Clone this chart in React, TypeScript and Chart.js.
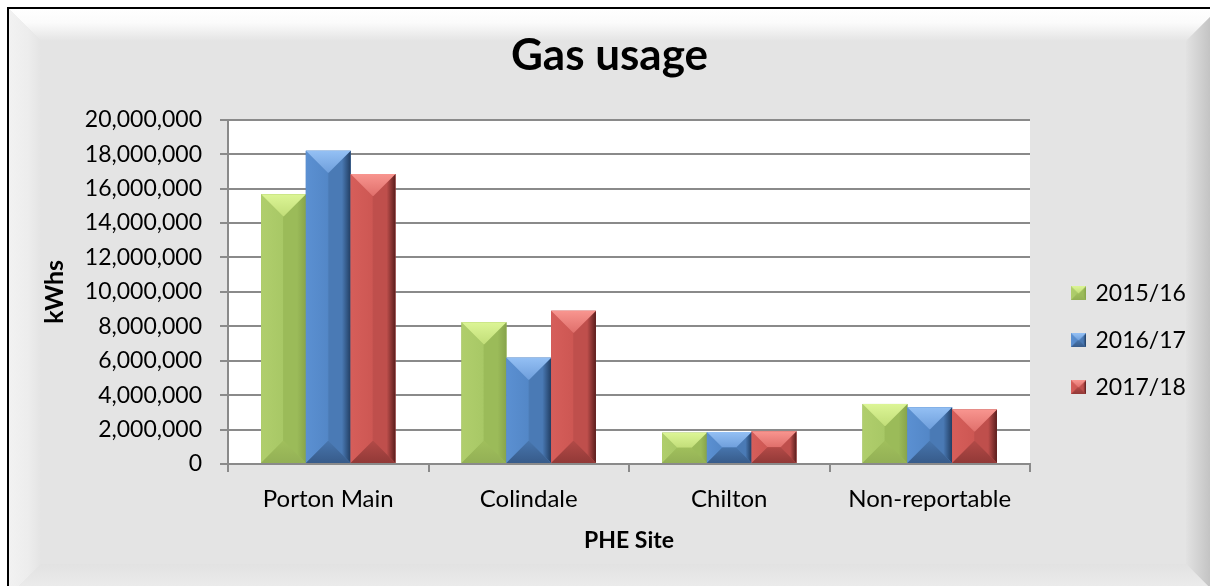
import React, { useEffect, useRef } from 'react';
import { Chart, registerables } from 'chart.js';

Chart.register(...registerables);

// ---- data ----
const categories = ['Porton Main', 'Colindale', 'Chilton', 'Non-reportable'];
const seriesLabels = ['2015/16', '2016/17', '2017/18'];
const values2015 = [15680000, 8240000, 1820000, 3490000];
const values2016 = [18200000, 6180000, 1860000, 3300000];
const values2017 = [16850000, 8900000, 1900000, 3160000];
const yMin = 0;
const yMax = 20000000;
const yStep = 2000000;
const chartTitle = 'Gas usage';
const xTitle = 'PHE Site';
const yTitle = 'kWhs';

// ---- style ----
const W = 1210;
const H = 586;
const FONT = 'Lato';
const GRID = '#8a8a8a';
const LEGEND_W = 180;
const LEGEND_SHIFT = 19;

type Pal = { base: string; top: string; topDark: string; leftEdge: string; left: string; right: string; edge: string; bottom: string; bottomDark: string };
const palettes: Pal[] = [
  { base: '#9bbb59', top: '#dcf596', topDark: '#c2de79', leftEdge: '#b0ce6c', left: '#a8c866', right: '#9bbb59', edge: '#87a44b', bottom: '#a0bf5c', bottomDark: '#93b055' },
  { base: '#4f81bd', top: '#94c0f4', topDark: '#6f9fdc', leftEdge: '#5b90d2', left: '#5387c7', right: '#4a7ab5', edge: '#213d62', bottom: '#4775ad', bottomDark: '#375b8a' },
  { base: '#c0504d', top: '#f8958f', topDark: '#e06f6b', leftEdge: '#d65e5a', left: '#cd5753', right: '#bf4f4c', edge: '#5a1e1d', bottom: '#b24a47', bottomDark: '#923937' },
];

function poly(ctx: CanvasRenderingContext2D, pts: number[][], fill: string | CanvasGradient) {
  ctx.beginPath();
  ctx.moveTo(pts[0][0], pts[0][1]);
  for (let i = 1; i < pts.length; i++) ctx.lineTo(pts[i][0], pts[i][1]);
  ctx.closePath();
  ctx.fillStyle = fill;
  ctx.fill();
}

function drawBevel(ctx: CanvasRenderingContext2D, x0: number, x1: number, yt: number, yb: number, p: Pal) {
  const w = x1 - x0;
  const h = yb - yt;
  if (h <= 0.5 || w <= 0.5) return;
  const d = Math.min(w / 2, h / 2, 22);
  const xm0 = x0 + d, xm1 = x1 - d, ym0 = yt + d, ym1 = yb - d;
  ctx.save();
  ctx.fillStyle = p.base;
  ctx.fillRect(x0, yt, w, h);
  const gl = ctx.createLinearGradient(x0, 0, xm0, 0);
  gl.addColorStop(0, p.leftEdge);
  gl.addColorStop(1, p.left);
  poly(ctx, [[x0, yt], [xm0, ym0], [xm0, ym1], [x0, yb]], gl);
  const gr = ctx.createLinearGradient(xm1, 0, x1, 0);
  gr.addColorStop(0, p.right);
  gr.addColorStop(0.6, p.right);
  gr.addColorStop(1, p.edge);
  poly(ctx, [[x1, yt], [xm1, ym0], [xm1, ym1], [x1, yb]], gr);
  const gt = ctx.createLinearGradient(0, yt, 0, ym0);
  gt.addColorStop(0, p.top);
  gt.addColorStop(1, p.topDark);
  poly(ctx, [[x0, yt], [x1, yt], [xm1, ym0], [xm0, ym0]], gt);
  const gb = ctx.createLinearGradient(0, ym1, 0, yb);
  gb.addColorStop(0, p.bottom);
  gb.addColorStop(1, p.bottomDark);
  poly(ctx, [[x0, yb], [x1, yb], [xm1, ym1], [xm0, ym1]], gb);
  ctx.restore();
}

function makeIcon(p: Pal): HTMLCanvasElement {
  const c = document.createElement('canvas');
  c.width = 15;
  c.height = 14;
  const ctx = c.getContext('2d')!;
  drawBevel(ctx, 0, 15, 0, 14, p);
  return c;
}

const backgroundPlugin = {
  id: 'excelBackground',
  beforeDraw(chart: any) {
    const ctx: CanvasRenderingContext2D = chart.ctx;
    const l = 8, t = 8, r = 1219, b = 597, D = 33;
    ctx.save();
    ctx.fillStyle = '#ffffff';
    ctx.fillRect(0, 0, W, H);
    ctx.fillStyle = '#e4e4e4';
    ctx.fillRect(l, t, r - l, b - t);
    const gt = ctx.createLinearGradient(0, t, 0, t + D);
    gt.addColorStop(0, '#ffffff');
    gt.addColorStop(0.45, '#fbfbfb');
    gt.addColorStop(1, '#e4e4e4');
    poly(ctx, [[l, t], [r, t], [r - D, t + D], [l + D, t + D]], gt);
    const gl = ctx.createLinearGradient(l, 0, l + D, 0);
    gl.addColorStop(0, '#f2f2f2');
    gl.addColorStop(0.6, '#ededed');
    gl.addColorStop(1, '#e4e4e4');
    poly(ctx, [[l, t], [l + D, t + D], [l + D, b - D], [l, b]], gl);
    const gr = ctx.createLinearGradient(r - D, 0, r, 0);
    gr.addColorStop(0, '#e2e2e2');
    gr.addColorStop(1, '#b8b8b8');
    poly(ctx, [[r, t], [r, b], [r - D, b - D], [r - D, t + D]], gr);
    const gb = ctx.createLinearGradient(0, b - D, 0, b);
    gb.addColorStop(0, '#e2e2e2');
    gb.addColorStop(1, '#efefef');
    poly(ctx, [[l, b], [r, b], [r - D, b - D], [l + D, b - D]], gb);
    ctx.strokeStyle = '#000000';
    ctx.lineWidth = 2;
    ctx.beginPath();
    ctx.moveTo(8, H + 2);
    ctx.lineTo(8, 8);
    ctx.lineTo(W + 2, 8);
    ctx.stroke();
    const a = chart.chartArea;
    ctx.fillStyle = '#ffffff';
    ctx.fillRect(a.left, a.top, a.right - a.left, a.bottom - a.top);
    ctx.restore();
  },
};

const bevelPlugin = {
  id: 'bevelBars',
  afterDatasetsDraw(chart: any) {
    const ctx: CanvasRenderingContext2D = chart.ctx;
    chart.data.datasets.forEach((_ds: any, i: number) => {
      const meta = chart.getDatasetMeta(i);
      if (meta.hidden) return;
      meta.data.forEach((el: any) => {
        const { x, y, base, width } = el.getProps(['x', 'y', 'base', 'width'], true);
        drawBevel(ctx, x - width / 2, x + width / 2, Math.min(y, base), Math.max(y, base), palettes[i]);
      });
    });
  },
};

const legendFixPlugin = {
  id: 'legendFix',
  afterInit(chart: any) {
    const lg = chart.legend;
    if (lg && !lg.__patched) {
      const orig = lg.fit;
      lg.fit = function () {
        orig.call(this);
        this.width = LEGEND_W;
      };
      lg.__patched = true;
    }
  },
  afterLayout(chart: any) {
    const lg = chart.legend;
    if (lg) {
      lg.left += LEGEND_SHIFT;
    }
  },
};

export default function App() {
  const ref = useRef<HTMLCanvasElement>(null);
  useEffect(() => {
    const canvas = ref.current;
    if (!canvas) return;
    Chart.defaults.font.family = FONT;
    const icons = palettes.map(makeIcon);
    const seriesValues = [values2015, values2016, values2017];
    const chart = new Chart(canvas, {
      type: 'bar',
      data: {
        labels: categories,
        datasets: seriesLabels.map((label, i) => ({
          label,
          data: seriesValues[i],
          backgroundColor: palettes[i].base,
          borderWidth: 0,
          categoryPercentage: 0.67,
          barPercentage: 1,
        })),
      },
      options: {
        responsive: false,
        animation: false,
        devicePixelRatio: 1,
        layout: { padding: { left: 9, right: 0, top: 0, bottom: 0 } },
        plugins: {
          tooltip: { enabled: false },
          title: {
            display: true,
            text: chartTitle,
            color: '#000000',
            font: { family: FONT, size: 44, weight: 'bold' },
            padding: { top: 29, bottom: 38 },
          },
          legend: {
            position: 'right',
            align: 'center',
            title: { display: true, text: ' ', padding: { top: 40, bottom: 40 }, font: { size: 12 } },
            labels: {
              color: '#000000',
              font: { family: FONT, size: 23 },
              padding: 24,
              usePointStyle: true,
              pointStyleWidth: 11,
              boxWidth: 15,
              boxHeight: 15,
              generateLabels(c: any) {
                const items = (Chart.defaults.plugins.legend.labels as any).generateLabels(c);
                items.forEach((it: any, i: number) => {
                  it.pointStyle = icons[i];
                });
                return items;
              },
            },
          },
        },
        scales: {
          x: {
            type: 'category',
            offset: true,
            grid: { display: true, drawOnChartArea: false, drawTicks: true, tickLength: 8, color: GRID, lineWidth: 2, offset: true },
            border: { display: true, color: GRID, width: 2 },
            ticks: { color: '#000000', font: { family: FONT, size: 24 }, padding: 13, maxRotation: 0 },
            title: { display: true, text: xTitle, color: '#000000', font: { family: FONT, size: 23, weight: 'bold' }, padding: { top: 0, bottom: 32 } },
            afterFit(scale: any) {
              scale.height = 122;
            },
          },
          y: {
            min: yMin,
            max: yMax,
            grid: { color: GRID, lineWidth: 2, drawTicks: true, tickLength: 8 },
            border: { display: true, color: GRID, width: 2 },
            ticks: {
              stepSize: yStep,
              color: '#000000',
              font: { family: FONT, size: 23 },
              padding: 18,
              callback: (v: any) => Number(v).toLocaleString('en-US'),
            },
            title: { display: true, text: yTitle, color: '#000000', font: { family: FONT, size: 25, weight: 'bold' }, padding: { top: 31, bottom: 0 } },
            afterFit(scale: any) {
              scale.width = 219;
            },
          },
        },
      } as any,
      plugins: [backgroundPlugin, bevelPlugin, legendFixPlugin],
    });
    return () => chart.destroy();
  }, []);
  return (
    <div style={{ position: 'absolute', left: 0, top: 0, width: W, height: H, overflow: 'hidden' }}>
      <canvas ref={ref} width={W} height={H} style={{ display: 'block', width: W, height: H }} />
    </div>
  );
}
